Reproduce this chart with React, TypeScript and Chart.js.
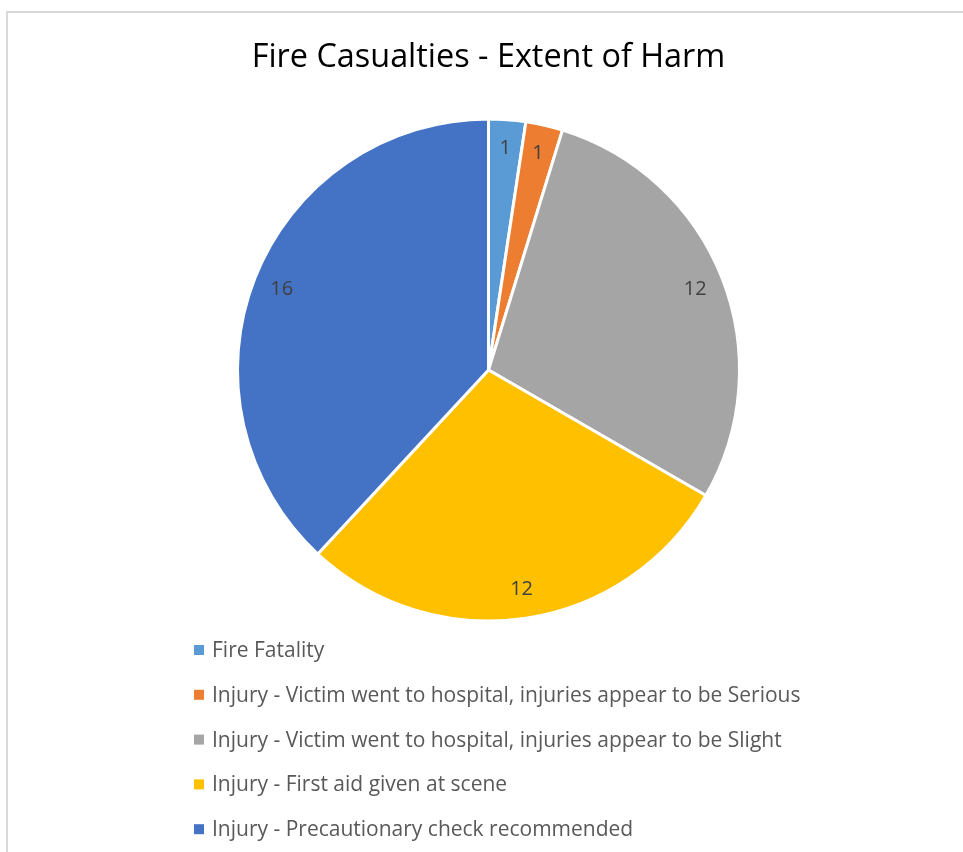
import React, { useEffect, useRef } from "react";
import { Chart, registerables } from "chart.js";

Chart.register(...registerables);

const TITLE = "Fire Casualties - Extent of Harm";
const categories = [
  "Fire Fatality",
  "Injury - Victim went to hospital, injuries appear to be Serious",
  "Injury - Victim went to hospital, injuries appear to be Slight",
  "Injury - First aid given at scene",
  "Injury - Precautionary check recommended",
];
const values = [1, 1, 12, 12, 16];
const colors = ["#5B9BD5", "#ED7D31", "#A5A5A5", "#FFC000", "#4472C4"];

const FONT = "'Open Sans', 'Noto Sans', sans-serif";

const labelsPlugin = {
  id: "sliceLabels",
  afterDatasetsDraw(chart: any) {
    const ctx = chart.ctx;
    const meta = chart.getDatasetMeta(0);
    ctx.save();
    ctx.font = `20px ${FONT}`;
    ctx.fillStyle = "#404040";
    ctx.textAlign = "center";
    ctx.textBaseline = "middle";
    meta.data.forEach((arc: any, i: number) => {
      const p = arc.getProps(["x", "y", "startAngle", "endAngle", "outerRadius"], true);
      const mid = (p.startAngle + p.endAngle) / 2;
      const r = p.outerRadius * 0.885;
      ctx.fillText(String(chart.data.datasets[0].data[i]), p.x + Math.cos(mid) * r, p.y + Math.sin(mid) * r);
    });
    ctx.restore();
  },
};

const legendPlugin = {
  id: "columnLegend",
  afterDraw(chart: any) {
    const ctx = chart.ctx;
    ctx.save();
    ctx.font = `21px ${FONT}`;
    ctx.textAlign = "left";
    ctx.textBaseline = "middle";
    const labels = chart.data.labels as string[];
    const bg = chart.data.datasets[0].backgroundColor as string[];
    labels.forEach((lab, i) => {
      const y = 650 + i * 44.8;
      ctx.fillStyle = bg[i];
      ctx.fillRect(194, y - 5, 10, 10);
      ctx.fillStyle = "#595959";
      ctx.fillText(lab, 212, y + 1);
    });
    ctx.restore();
  },
};

export default function App() {
  const ref = useRef<HTMLCanvasElement | null>(null);
  useEffect(() => {
    if (!ref.current) return;
    const chart = new Chart(ref.current, {
      type: "pie",
      data: {
        labels: categories,
        datasets: [
          {
            data: values,
            backgroundColor: colors,
            borderColor: "#ffffff",
            borderWidth: 3,
            radius: 251,
          } as any,
        ],
      },
      options: {
        animation: false,
        responsive: false,
        maintainAspectRatio: false,
        layout: { padding: { left: 14, right: 0, top: 0, bottom: 232 } },
        plugins: {
          legend: { display: false },
          tooltip: { enabled: false },
          title: {
            display: true,
            text: TITLE,
            color: "#000000",
            font: { family: FONT, size: 32.4, weight: "normal" as any, lineHeight: 1.2 },
            padding: { top: 38, bottom: 43.1 },
          },
        },
      },
      plugins: [labelsPlugin, legendPlugin],
    });
    return () => chart.destroy();
  }, []);
  return (
    <div style={{ position: "fixed", left: 0, top: 0, width: 963, height: 852, background: "#fff", overflow: "hidden" }}>
      <div
        style={{
          position: "absolute",
          left: 6,
          top: 11,
          width: 1000,
          height: 1000,
          borderLeft: "2px solid #d9d9d9",
          borderTop: "2px solid #d9d9d9",
        }}
      />
      <canvas ref={ref} width={963} height={852} style={{ position: "absolute", left: 0, top: 0 }} />
    </div>
  );
}
